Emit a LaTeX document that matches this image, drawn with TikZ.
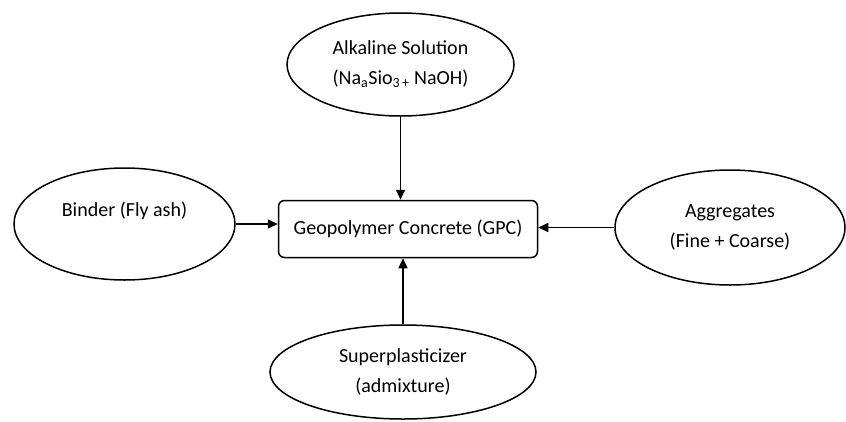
\documentclass[tikz,border=0pt]{standalone}
\usepackage{fontspec}
\setmainfont{Carlito}
\usetikzlibrary{shapes.geometric,arrows.meta}
\begin{document}
\begin{tikzpicture}[x=1pt,y=-1pt,
  every node/.style={font=\fontsize{20}{30}\selectfont, align=center, inner sep=0pt},
  oval/.style={ellipse, draw, line width=1.5pt},
  mainbox/.style={draw, rounded corners=6pt, line width=1.5pt},
  arr/.style={line width=1.5pt, -{Triangle[length=10pt,width=9pt]}}]
\useasboundingbox (0,0) rectangle (846,421);
\node[oval, minimum width=227pt, minimum height=103pt] (alk) at (400.5,64.5)
  {Alkaline Solution\\(Na\textsubscript{a}Sio\textsubscript{3\,+} NaOH)};
\node[oval, minimum width=221pt, minimum height=112pt] (binder) at (124.5,224)
  {Binder (Fly ash)\\\mbox{}};
\node[oval, minimum width=230pt, minimum height=115pt] (agg) at (730,227.5)
  {Aggregates\\(Fine + Coarse)};
\node[oval, minimum width=266pt, minimum height=94pt] (sup) at (403,372)
  {Superplasticizer\\(admixture)};
\node[mainbox, minimum width=259pt, minimum height=57pt] (gpc) at (408,229)
  {Geopolymer Concrete (GPC)};
\draw[arr] (alk.south) -- (alk.south |- gpc.north);
\draw[arr] (sup.north) -- (sup.north |- gpc.south);
\draw[arr] (binder.east) -- (binder.east -| gpc.west);
\draw[arr] (agg.west) -- (agg.west -| gpc.east);
\end{tikzpicture}
\end{document}
